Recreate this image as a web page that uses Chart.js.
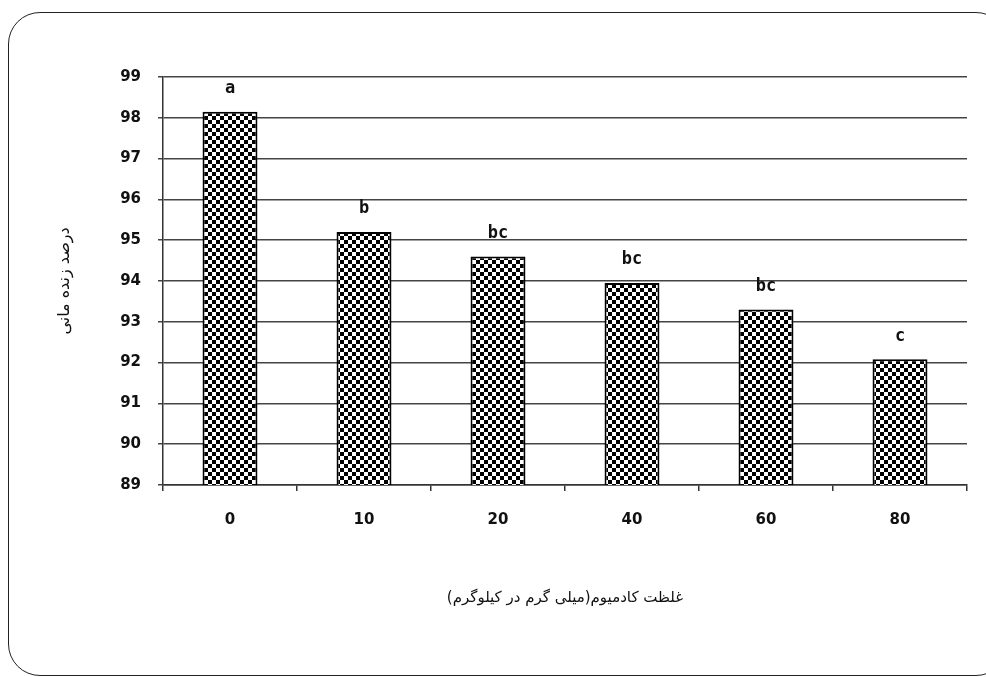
<!DOCTYPE html>
<html>
<head>
<meta charset="utf-8">
<script src="https://cdn.jsdelivr.net/npm/chart.js@4.4.1/dist/chart.umd.min.js"></script>
<style>
  html, body { margin: 0; padding: 0; background: #fff; overflow: hidden; }
  #wrap { position: relative; width: 986px; height: 677px; }
  #frame {
    position: absolute; left: 8px; top: 12px; width: 1000px; height: 664px;
    border: 1.5px solid #222; border-radius: 32px; box-sizing: border-box;
  }
  canvas { position: absolute; left: 0; top: 0; }
</style>
</head>
<body>
<div id="wrap">
  <div id="frame"></div>
  <canvas id="grafico" width="986" height="677"></canvas>
</div>
<script>
// Dados
const categorias = ["0", "10", "20", "40", "60", "80"];
const sobrevivencia = [98.15, 95.2, 94.6, 93.95, 93.3, 92.08];
const letras = ["a", "b", "bc", "bc", "bc", "c"];
const tituloX = "غلظت کادمیوم(میلی گرم در کیلوگرم)";
const tituloY = "درصد زنده مانی";

// Padrão xadrez das barras
function xadrez() {
  const c = document.createElement("canvas");
  c.width = 8; c.height = 8;
  const g = c.getContext("2d");
  g.fillStyle = "#fff";
  g.fillRect(0, 0, 8, 8);
  g.fillStyle = "#000";
  g.fillRect(0, 0, 4, 4);
  g.fillRect(4, 4, 4, 4);
  return g.createPattern(c, "repeat");
}

// Letras acima das barras
const letrasPlugin = {
  id: "letras",
  afterDatasetsDraw(chart) {
    const ctx = chart.ctx;
    const meta = chart.getDatasetMeta(0);
    ctx.save();
    ctx.font = "bold 17px 'DejaVu Sans Mono'";
    ctx.fillStyle = "#111";
    ctx.textAlign = "center";
    ctx.textBaseline = "middle";
    meta.data.forEach((bar, i) => {
      ctx.fillText(letras[i], bar.x, bar.y - 23);
    });
    ctx.restore();
  }
};

const ctx = document.getElementById("grafico").getContext("2d");
new Chart(ctx, {
  type: "bar",
  data: {
    labels: categorias,
    datasets: [{
      data: sobrevivencia,
      backgroundColor: xadrez(),
      borderColor: "#000",
      borderWidth: 2,
      borderSkipped: false,
      categoryPercentage: 0.41,
      barPercentage: 1
    }]
  },
  options: {
    responsive: false,
    animation: false,
    layout: { padding: { left: 55, right: 19, top: 77, bottom: 70 } },
    plugins: { legend: { display: false }, tooltip: { enabled: false } },
    scales: {
      x: {
        grid: { display: true, drawOnChartArea: false, drawTicks: true, tickLength: 6, color: "#333", lineWidth: 1.5 },
        border: { color: "#333", width: 1.5 },
        ticks: { color: "#111", padding: 20, font: { family: "DejaVu Sans", weight: "bold", size: 15 } },
        title: { display: true, text: tituloX, color: "#111", padding: { top: 0, bottom: 0 }, font: { family: "DejaVu Sans", size: 15 } },
        afterFit(scale) { scale.height = 677 - 70 - 485; }
      },
      y: {
        min: 89, max: 99,
        grid: { color: "#444", lineWidth: 1.5, tickLength: 5 },
        border: { color: "#333", width: 1.5 },
        ticks: { stepSize: 1, color: "#111", padding: 17, font: { family: "DejaVu Sans", weight: "bold", size: 15 } },
        title: { display: true, text: tituloY, color: "#111", padding: 0, font: { family: "DejaVu Sans", size: 16 } },
        afterFit(scale) { scale.width = 163 - 55; }
      }
    }
  },
  plugins: [letrasPlugin]
});
</script>
</body>
</html>
